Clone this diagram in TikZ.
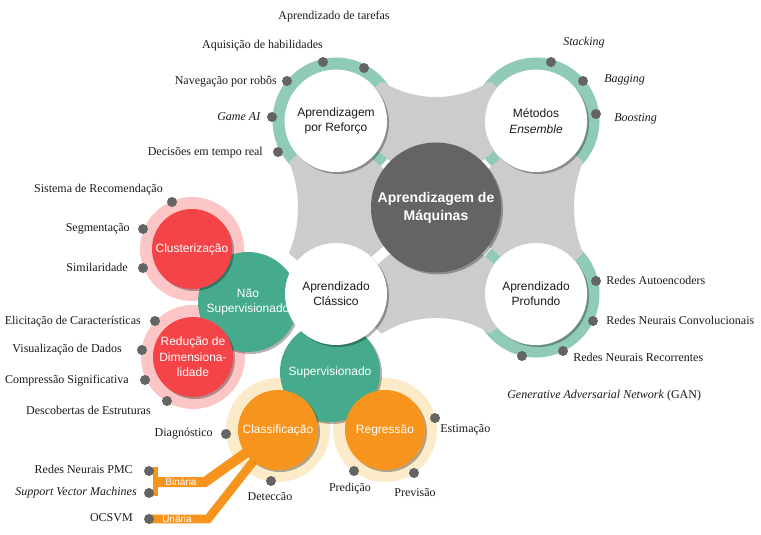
\documentclass[tikz,border=0pt]{standalone}
\usepackage{fontspec}
\setmainfont{Liberation Serif}
\setsansfont{Liberation Sans}
\usetikzlibrary{calc,shadows}

\definecolor{cinzaclaro}{HTML}{CCCCCC}
\definecolor{cinzaescuro}{HTML}{646464}
\definecolor{anel}{HTML}{8FCBB7}
\definecolor{verde}{HTML}{46AB8C}
\definecolor{vermelho}{HTML}{F54447}
\definecolor{rosa}{HTML}{FCC6C6}
\definecolor{laranja}{HTML}{F7941E}
\definecolor{creme}{HTML}{FCEBC8}
\definecolor{texto}{HTML}{1A1A1A}

\begin{document}
\begin{tikzpicture}[x=0.75pt, y=-0.75pt,
    sombra/.style={drop shadow={shadow xshift=1.5pt, shadow yshift=-1.5pt, fill=black, opacity=0.3}},
    circulo/.style={circle, inner sep=0pt, align=center, font=\sffamily\fontsize{9}{11.5}\selectfont},
    canto/.style={circulo, fill=white, text=texto, minimum size=76.5pt, sombra},
    grupo/.style={circulo, fill=verde, text=white, minimum size=75pt, sombra},
    tecnica/.style={circulo, text=white, minimum size=60pt, sombra},
    halo/.style={circle, inner sep=0pt, minimum size=78pt},
    anelst/.style={draw=anel, line width=9pt},
    ponto/.style={circle, fill=cinzaescuro, inner sep=0pt, minimum size=7.5pt},
    rotulo/.style={inner sep=0pt, text=texto, font=\fontsize{9}{11}\selectfont, text height=1.5ex, text depth=.25ex},
    faixa/.style={draw=laranja, line width=7.5pt},
    faixatxt/.style={inner sep=0pt, text=white, font=\sffamily\fontsize{7.5}{8}\selectfont}]

    \fill[white] (0,0) rectangle (761,535);
    \useasboundingbox (0,0) rectangle (761,535);

    \coordinate (cM) at (436,207.5);
    \coordinate (cR) at (336,121);
    \coordinate (cE) at (536,121);
    \coordinate (cC) at (336,294);
    \coordinate (cP) at (536,294);

    % aneis verdes
    \foreach \c in {cR,cE,cP}
        \draw[anelst] (\c) circle (57.5);

    % losango cinza com entalhes e frestas
    \begin{scope}
        \clip (236,207.5) -- (436,34.5) -- (636,207.5) -- (436,380.5) -- cycle;
        \fill[cinzaclaro, even odd rule] (200,0) rectangle (680,420)
            (436,-5) circle (102) (436,420) circle (102)
            (178,207.5) circle (120) (694,207.5) circle (120)
            \foreach \c in {cR,cE,cC,cP}{
                ($(cM)!3.75pt!90:(\c)$) -- ($(cM)!3.75pt!-90:(\c)$) -- ($(\c)!3.75pt!90:(cM)$) -- ($(\c)!3.75pt!-90:(cM)$) -- cycle};
    \end{scope}

    \node[halo, fill=creme] (hCf) at (278,430) {};
    \node[halo, fill=creme] (hRg) at (385,430) {};
    \node[halo, fill=rosa] (hCl) at (192,249) {};
    \node[halo, fill=rosa] (hRd) at (193,357) {};

    % faixas laranja
    \coordinate (cCf) at (278,430);
    \coordinate (pOc) at (149,519);
    \coordinate (vb1) at (155,467);
    \coordinate (vb2) at (155,496);
    \coordinate (jb1) at (155,482);
    \coordinate (jb2) at (205,482);
    \coordinate (ju) at (208,519);
    \draw[faixa, line width=3.75pt] (vb1) -- (vb2);
    \draw[faixa] (jb1) -- (jb2) -- (cCf);
    \draw[faixa, line width=6.5pt] (pOc) -- (ju) -- (cCf);
    \node[faixatxt] (tBin) at (181,482) {Binária};
    \node[faixatxt] (tUn) at (177,519) {Unária};

    \node[grupo] (NS) at (248,302) {Não\\Supervisionado};
    \node[grupo] (S) at (330,372) {Supervisionado};

    \node[tecnica, fill=vermelho] (Cl) at (192,249) {Clusterização};
    \node[tecnica, fill=vermelho] (Rd) at (193,357) {};
    \node[circulo, text=white] (tRd) at (Rd) {Redução de\\Dimensiona-\\lidade};
    \node[tecnica, fill=laranja] (Cf) at (cCf) {Classificação};
    \node[tecnica, fill=laranja] (Rg) at (385,430) {Regressão};

    \node[canto] (R) at (cR) {Aprendizagem\\por Reforço};
    \node[canto] (E) at (cE) {Métodos\\\textit{Ensemble}};
    \node[canto] (C) at (cC) {Aprendizado\\Clássico};
    \node[canto] (P) at (cP) {Aprendizado\\Profundo};
    \node[circulo, fill=cinzaescuro, text=white, minimum size=97.5pt, sombra,
        font=\sffamily\bfseries\fontsize{10.5}{13.5}\selectfont] (M) at (cM) {Aprendizagem de\\Máquinas};

    % pontos e rotulos
    \node[ponto] (dTar) at (364,68) {};
    \node[ponto] (dHab) at (323,62) {};
    \node[ponto] (dNav) at (287,81) {};
    \node[ponto] (dGame) at (272,117) {};
    \node[ponto] (dDec) at (278,152) {};
    \node[rotulo] (lTar) at (334,16) {Aprendizado de tarefas};
    \node[rotulo, anchor=east] (lHab) at (323,45) {Aquisição de habilidades};
    \node[rotulo, anchor=east] (lNav) at (277,81) {Navegação por robôs};
    \node[rotulo, anchor=east] (lGame) at (261,117) {\textit{Game AI}};
    \node[rotulo, anchor=east] (lDec) at (263,152) {Decisões em tempo real};

    \node[ponto] (dSta) at (551,62) {};
    \node[ponto] (dBag) at (583,81) {};
    \node[ponto] (dBoo) at (596,114) {};
    \node[rotulo, anchor=west] (lSta) at (563,42) {\textit{Stacking}};
    \node[rotulo, anchor=west] (lBag) at (604,79) {\textit{Bagging}};
    \node[rotulo, anchor=west] (lBoo) at (614,118) {\textit{Boosting}};

    \node[ponto] (dAut) at (596,281) {};
    \node[ponto] (dConv) at (593,321) {};
    \node[ponto] (dRec) at (563,351) {};
    \node[ponto] (dGan) at (522,356) {};
    \node[rotulo, anchor=west] (lAut) at (606,281) {Redes Autoencoders};
    \node[rotulo, anchor=west] (lConv) at (606,321) {Redes Neurais Convolucionais};
    \node[rotulo, anchor=west] (lRec) at (573,358) {Redes Neurais Recorrentes};
    \node[rotulo, anchor=west] (lGan) at (507,395) {\textit{Generative Adversarial Network} (GAN)};

    \node[ponto] (dSis) at (172,202) {};
    \node[ponto] (dSeg) at (143,229) {};
    \node[ponto] (dSim) at (143,268) {};
    \node[rotulo, anchor=east] (lSis) at (163,189) {Sistema de Recomendação};
    \node[rotulo, anchor=east] (lSeg) at (130,228) {Segmentação};
    \node[rotulo, anchor=east] (lSim) at (128,268) {Similaridade};

    \node[ponto] (dEli) at (155,321) {};
    \node[ponto] (dVis) at (142,350) {};
    \node[ponto] (dCom) at (145,380) {};
    \node[ponto] (dDes) at (167,401) {};
    \node[rotulo, anchor=east] (lEli) at (141,321) {Elicitação de Características};
    \node[rotulo, anchor=east] (lVis) at (122,349) {Visualização de Dados};
    \node[rotulo, anchor=east] (lCom) at (129,380) {Compressão Significativa};
    \node[rotulo, anchor=east] (lDes) at (151,411) {Descobertas de Estruturas};

    \node[ponto] (dDia) at (226,434) {};
    \node[ponto] (dDet) at (271,481) {};
    \node[ponto] (dPmc) at (149,471) {};
    \node[ponto] (dSvm) at (149,493) {};
    \node[ponto] (dOc) at (pOc) {};
    \node[rotulo, anchor=east] (lDia) at (213,433) {Diagnóstico};
    \node[rotulo] (lDet) at (270,497) {Deteccão};
    \node[rotulo, anchor=east] (lPmc) at (133,470) {Redes Neurais PMC};
    \node[rotulo, anchor=east] (lSvm) at (137,492) {\textit{Support Vector Machines}};
    \node[rotulo, anchor=east] (lOc) at (133,518) {OCSVM};

    \node[ponto] (dEst) at (435,418) {};
    \node[ponto] (dPre) at (354,471) {};
    \node[ponto] (dPrev) at (414,473) {};
    \node[rotulo, anchor=west] (lEst) at (440,429) {Estimação};
    \node[rotulo] (lPre) at (350,488) {Predição};
    \node[rotulo] (lPrev) at (415,493) {Previsão};
\end{tikzpicture}
\end{document}
